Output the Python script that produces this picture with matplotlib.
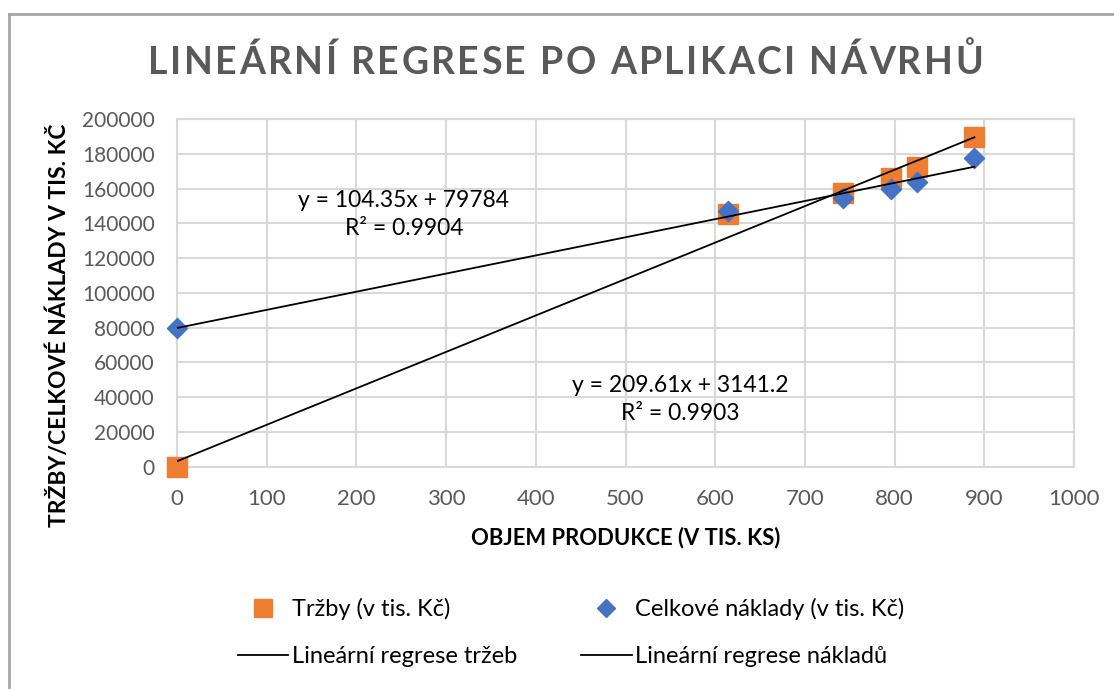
import numpy as np
import matplotlib
matplotlib.use("Agg")
import matplotlib.pyplot as plt
from matplotlib.lines import Line2D

plt.rcParams['font.family'] = ['Lato', 'DejaVu Sans']

# data
objem = [0, 614, 742, 796, 825, 889]
trzby = [0, 145400, 157600, 165900, 172200, 189500]
naklady = [80000, 147200, 154400, 159700, 163600, 177400]

# trendline coefficients shown in the chart (slope, intercept)
reg_trzby = [209.61, 3141.2]
reg_naklady = [104.35, 79784]
r2_trzby = 0.9903
r2_naklady = 0.9904

x_ticks = list(range(0, 1001, 100))
y_ticks = list(range(0, 200001, 20000))

orange = '#ED7D31'
blue = '#4472C4'
grid_c = '#D9D9D9'
txt_gray = '#595959'

W, H = 1114, 689


def spaced_text(fig, x0, y, s, width, **kw):
    # draw text char by char so that it spans `width` pixels (letter spacing)
    r = fig.canvas.get_renderer()

    def wpx(t):
        a = fig.text(0, 0, t + '|', **kw)
        b = fig.text(0, 0, '|', **kw)
        w = a.get_window_extent(r).width - b.get_window_extent(r).width
        a.remove()
        b.remove()
        return w

    natural = wpx(s)
    gap = (width - natural) / (len(s) - 1)
    for i, ch in enumerate(s):
        xx = x0 + wpx(s[:i]) + i * gap
        fig.text(xx / W, 1 - y / H, ch, ha='left', va='baseline', **kw)


fig = plt.figure(figsize=(W / 100, H / 100), dpi=100)

ax = fig.add_axes([177 / W, 1 - 466.7 / H, 897 / W, 347.7 / H])
ax.set_xlim(0, 1000)
ax.set_ylim(0, 200000)
ax.set_xticks(x_ticks)
ax.set_yticks(y_ticks)
ax.set_xticklabels([str(v) for v in x_ticks])
ax.set_yticklabels([str(v) for v in y_ticks])
ax.grid(True, color=grid_c, lw=1.5, zorder=0)
for s in ax.spines.values():
    s.set_color(grid_c)
    s.set_linewidth(1.5)
ax.tick_params(length=0, labelsize=15, labelcolor=txt_gray)
ax.tick_params(axis='x', pad=16, labelsize=16)
ax.tick_params(axis='y', pad=16)

ax.scatter(objem, trzby, marker='s', s=190, color=orange, zorder=3, clip_on=False)
ax.scatter(objem, naklady, marker='D', s=105, color=blue, zorder=4, clip_on=False)

xl = np.array([0, max(objem)])
ax.plot(xl, reg_trzby[0] * xl + reg_trzby[1], color='black', lw=1.3, zorder=5)
ax.plot(xl, reg_naklady[0] * xl + reg_naklady[1], color='black', lw=1.3, zorder=5)

ax.text(253, 145000, 'y = {}x + {}\nR² = {}'.format(reg_naklady[0], reg_naklady[1], r2_naklady),
        ha='center', va='center', fontsize=16.5, linespacing=1.45)
ax.text(561, 38600, 'y = {}x + {}\nR² = {}'.format(reg_trzby[0], reg_trzby[1], r2_trzby),
        ha='center', va='center', fontsize=16.5, linespacing=1.45)

fig.text(626 / W, 1 - 538 / H, 'OBJEM PRODUKCE (V TIS. KS)', ha='center', va='center',
         fontsize=15.8, fontweight='bold')
fig.text(59 / W, 1 - 325 / H, 'TRŽBY/CELKOVÉ NÁKLADY V TIS. KČ', ha='center', va='center',
         rotation=90, fontsize=16.5, fontweight='bold')

spaced_text(fig, 148, 74, 'LINEÁRNÍ REGRESE PO APLIKACI NÁVRHŮ', 835,
            fontsize=27, fontweight='bold', color=txt_gray)

handles = [
    Line2D([], [], ls='none', marker='s', ms=13, color=orange),
    Line2D([], [], color='black', lw=1.3),
    Line2D([], [], ls='none', marker='D', ms=9.5, color=blue),
    Line2D([], [], color='black', lw=1.3),
]
labels = ['Tržby (v tis. Kč)', 'Lineární regrese tržeb',
          'Celkové náklady (v tis. Kč)', 'Lineární regrese nákladů']
fig.legend(handles, labels, ncol=2, loc='center', bbox_to_anchor=(571 / W, 1 - 632.5 / H),
           frameon=False, fontsize=17, handlelength=2.15, handletextpad=0.15,
           columnspacing=2.7, labelspacing=1.1)

# chart frame (cropped on right and bottom)
fig.add_artist(Line2D([8.5 / W, 8.5 / W], [0, 1 - 13.5 / H], color='#A6A6A6', lw=2))
fig.add_artist(Line2D([8.5 / W, 1], [1 - 13.5 / H, 1 - 13.5 / H], color='#A6A6A6', lw=2))

fig.savefig('out.png', dpi=100)
